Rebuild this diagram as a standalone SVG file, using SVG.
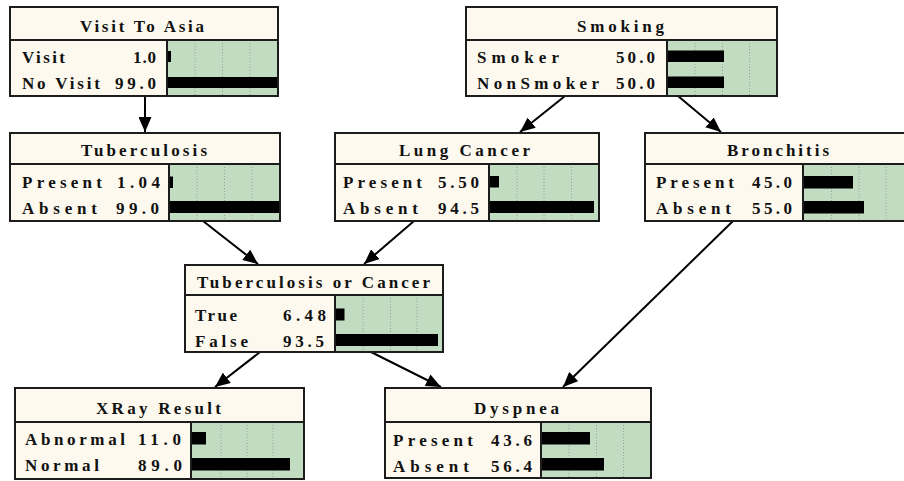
<svg xmlns="http://www.w3.org/2000/svg" width="904" height="481" viewBox="0 0 904 481">
  <defs>
    <style>
      .frame { fill: #fdf9ee; stroke: #1c1c1c; stroke-width: 2; }
      .panel { fill: #c1dcc1; }
      .rule { stroke: #1c1c1c; stroke-width: 2; fill: none; }
      .grid { stroke: #9a9a9a; stroke-width: 1; stroke-dasharray: 1 2; }
      .bar { fill: #000; }
      .edge { stroke: #000; stroke-width: 2; fill: none; marker-end: url(#arrow); }
      text { font-family: "Liberation Serif", "Times New Roman", serif; font-weight: bold; font-size: 17px; fill: #111; }
    </style>
    <marker id="arrow" viewBox="0 0 15 13" refX="15" refY="6.5" markerWidth="15" markerHeight="13" markerUnits="userSpaceOnUse" orient="auto">
      <path d="M0,0 L15,6.5 L0,13 z" fill="#000"/>
    </marker>
  </defs>
  <rect width="904" height="481" fill="#fff"/>

  <!-- connectors -->
  <g id="connectors">
    <line class="edge" x1="145" y1="96" x2="145" y2="132"/>
    <line class="edge" x1="565" y1="96" x2="520" y2="132"/>
    <line class="edge" x1="678" y1="96" x2="721" y2="132"/>
    <line class="edge" x1="203" y1="221" x2="258" y2="264"/>
    <line class="edge" x1="414" y1="221" x2="364" y2="264"/>
    <line class="edge" x1="733" y1="221" x2="563" y2="387"/>
    <line class="edge" x1="260" y1="352" x2="215" y2="387"/>
    <line class="edge" x1="371" y1="352" x2="441" y2="387"/>
  </g>

  <!-- Visit To Asia -->
  <g id="visit-to-asia">
    <rect class="frame" x="10" y="7" width="268" height="89"/>
    <rect class="panel" x="167" y="40" width="111" height="56"/>
    <line class="grid" x1="195" y1="40" x2="195" y2="96"/>
    <line class="grid" x1="222.5" y1="40" x2="222.5" y2="96"/>
    <line class="grid" x1="250" y1="40" x2="250" y2="96"/>
    <rect class="bar" x="168" y="51" width="3" height="11"/>
    <rect class="bar" x="168" y="77" width="110" height="11"/>
    <line class="rule" x1="10" y1="40" x2="278" y2="40"/>
    <line class="rule" x1="167" y1="40" x2="167" y2="96"/>
    <rect class="frame" x="10" y="7" width="268" height="89" style="fill:none"/>
    <text x="80" y="32" textLength="124" lengthAdjust="spacing">Visit To Asia</text>
    <text x="22" y="63" textLength="43" lengthAdjust="spacing">Visit</text>
    <text x="133" y="63" textLength="23" lengthAdjust="spacing">1.0</text>
    <text x="22" y="89" textLength="78" lengthAdjust="spacing">No Visit</text>
    <text x="115" y="89" textLength="41" lengthAdjust="spacing">99.0</text>
  </g>

  <!-- Smoking -->
  <g id="smoking">
    <rect class="frame" x="466" y="7" width="311" height="89"/>
    <rect class="panel" x="667" y="40" width="110" height="56"/>
    <line class="grid" x1="695" y1="40" x2="695" y2="96"/>
    <line class="grid" x1="722.5" y1="40" x2="722.5" y2="96"/>
    <line class="grid" x1="749.5" y1="40" x2="749.5" y2="96"/>
    <rect class="bar" x="668" y="50.5" width="56" height="11.5"/>
    <rect class="bar" x="668" y="76.5" width="56" height="11.5"/>
    <line class="rule" x1="466" y1="40" x2="777" y2="40"/>
    <line class="rule" x1="667" y1="40" x2="667" y2="96"/>
    <rect class="frame" x="466" y="7" width="311" height="89" style="fill:none"/>
    <text x="577" y="32" textLength="87" lengthAdjust="spacing">Smoking</text>
    <text x="477" y="63" textLength="82" lengthAdjust="spacing">Smoker</text>
    <text x="616" y="63" textLength="39" lengthAdjust="spacing">50.0</text>
    <text x="477" y="89" textLength="122" lengthAdjust="spacing">NonSmoker</text>
    <text x="616" y="89" textLength="39" lengthAdjust="spacing">50.0</text>
  </g>

  <!-- Tuberculosis -->
  <g id="tuberculosis">
    <rect class="frame" x="10" y="133" width="270" height="88"/>
    <rect class="panel" x="169" y="164" width="111" height="57"/>
    <line class="grid" x1="197" y1="164" x2="197" y2="221"/>
    <line class="grid" x1="224.5" y1="164" x2="224.5" y2="221"/>
    <line class="grid" x1="252" y1="164" x2="252" y2="221"/>
    <rect class="bar" x="170" y="176.5" width="3" height="11.5"/>
    <rect class="bar" x="170" y="201" width="110" height="12"/>
    <line class="rule" x1="10" y1="164" x2="280" y2="164"/>
    <line class="rule" x1="169" y1="164" x2="169" y2="221"/>
    <rect class="frame" x="10" y="133" width="270" height="88" style="fill:none"/>
    <text x="81" y="156" textLength="126" lengthAdjust="spacing">Tuberculosis</text>
    <text x="22" y="188" textLength="80" lengthAdjust="spacing">Present</text>
    <text x="117" y="188" textLength="43" lengthAdjust="spacing">1.04</text>
    <text x="22" y="214" textLength="75" lengthAdjust="spacing">Absent</text>
    <text x="116" y="214" textLength="43" lengthAdjust="spacing">99.0</text>
  </g>

  <!-- Lung Cancer -->
  <g id="lung-cancer">
    <rect class="frame" x="335" y="133" width="264" height="88"/>
    <rect class="panel" x="489" y="164" width="110" height="57"/>
    <line class="grid" x1="517" y1="164" x2="517" y2="221"/>
    <line class="grid" x1="544" y1="164" x2="544" y2="221"/>
    <line class="grid" x1="571.5" y1="164" x2="571.5" y2="221"/>
    <rect class="bar" x="490" y="176" width="9" height="11.5"/>
    <rect class="bar" x="490" y="201" width="104" height="12"/>
    <line class="rule" x1="335" y1="164" x2="599" y2="164"/>
    <line class="rule" x1="489" y1="164" x2="489" y2="221"/>
    <rect class="frame" x="335" y="133" width="264" height="88" style="fill:none"/>
    <text x="399" y="156" textLength="131" lengthAdjust="spacing">Lung Cancer</text>
    <text x="343" y="188" textLength="79" lengthAdjust="spacing">Present</text>
    <text x="438" y="188" textLength="41" lengthAdjust="spacing">5.50</text>
    <text x="343" y="214" textLength="75" lengthAdjust="spacing">Absent</text>
    <text x="438" y="214" textLength="41" lengthAdjust="spacing">94.5</text>
  </g>

  <!-- Bronchitis -->
  <g id="bronchitis">
    <rect class="frame" x="645" y="133" width="268" height="88"/>
    <rect class="panel" x="803" y="164" width="110" height="57"/>
    <line class="grid" x1="831.5" y1="164" x2="831.5" y2="221"/>
    <line class="grid" x1="859" y1="164" x2="859" y2="221"/>
    <line class="grid" x1="886" y1="164" x2="886" y2="221"/>
    <rect class="bar" x="804" y="176" width="49" height="12.5"/>
    <rect class="bar" x="804" y="201" width="60" height="12.5"/>
    <line class="rule" x1="645" y1="164" x2="913" y2="164"/>
    <line class="rule" x1="803" y1="164" x2="803" y2="221"/>
    <rect class="frame" x="645" y="133" width="268" height="88" style="fill:none"/>
    <text x="727" y="156" textLength="102" lengthAdjust="spacing">Bronchitis</text>
    <text x="656" y="188" textLength="78" lengthAdjust="spacing">Present</text>
    <text x="752" y="188" textLength="40" lengthAdjust="spacing">45.0</text>
    <text x="656" y="214" textLength="75" lengthAdjust="spacing">Absent</text>
    <text x="752" y="214" textLength="40" lengthAdjust="spacing">55.0</text>
  </g>

  <!-- Tuberculosis or Cancer -->
  <g id="tuberculosis-or-cancer">
    <rect class="frame" x="185" y="265" width="258" height="87"/>
    <rect class="panel" x="335" y="295" width="108" height="57"/>
    <line class="grid" x1="363" y1="295" x2="363" y2="352"/>
    <line class="grid" x1="390.5" y1="295" x2="390.5" y2="352"/>
    <line class="grid" x1="417" y1="295" x2="417" y2="352"/>
    <rect class="bar" x="336" y="308.5" width="8.5" height="12"/>
    <rect class="bar" x="336" y="334" width="102" height="12"/>
    <line class="rule" x1="185" y1="295" x2="443" y2="295"/>
    <line class="rule" x1="335" y1="295" x2="335" y2="352"/>
    <rect class="frame" x="185" y="265" width="258" height="87" style="fill:none"/>
    <text x="197" y="288" textLength="233" lengthAdjust="spacing">Tuberculosis or Cancer</text>
    <text x="195" y="320.5" textLength="42" lengthAdjust="spacing">True</text>
    <text x="283" y="320.5" textLength="43" lengthAdjust="spacing">6.48</text>
    <text x="195" y="346.5" textLength="53" lengthAdjust="spacing">False</text>
    <text x="283" y="346.5" textLength="41" lengthAdjust="spacing">93.5</text>
  </g>

  <!-- XRay Result -->
  <g id="xray-result">
    <rect class="frame" x="15" y="388" width="289" height="91"/>
    <rect class="panel" x="191" y="422" width="113" height="57"/>
    <line class="grid" x1="221" y1="422" x2="221" y2="479"/>
    <line class="grid" x1="247" y1="422" x2="247" y2="479"/>
    <line class="grid" x1="273" y1="422" x2="273" y2="479"/>
    <rect class="bar" x="192" y="432" width="14" height="12.5"/>
    <rect class="bar" x="192" y="458" width="98" height="12.5"/>
    <line class="rule" x1="15" y1="422" x2="304" y2="422"/>
    <line class="rule" x1="191" y1="422" x2="191" y2="479"/>
    <rect class="frame" x="15" y="388" width="289" height="91" style="fill:none"/>
    <text x="96" y="413.5" textLength="125" lengthAdjust="spacing">XRay Result</text>
    <text x="25" y="444.5" textLength="100" lengthAdjust="spacing">Abnormal</text>
    <text x="138" y="444.5" textLength="43" lengthAdjust="spacing">11.0</text>
    <text x="25" y="470.5" textLength="74" lengthAdjust="spacing">Normal</text>
    <text x="138" y="470.5" textLength="44" lengthAdjust="spacing">89.0</text>
  </g>

  <!-- Dyspnea -->
  <g id="dyspnea">
    <rect class="frame" x="385" y="388" width="266" height="90"/>
    <rect class="panel" x="541" y="422" width="110" height="56"/>
    <line class="grid" x1="569" y1="422" x2="569" y2="478"/>
    <line class="grid" x1="596.5" y1="422" x2="596.5" y2="478"/>
    <line class="grid" x1="623.5" y1="422" x2="623.5" y2="478"/>
    <rect class="bar" x="542" y="432" width="48" height="12.5"/>
    <rect class="bar" x="542" y="458" width="62" height="12.5"/>
    <line class="rule" x1="385" y1="422" x2="651" y2="422"/>
    <line class="rule" x1="541" y1="422" x2="541" y2="478"/>
    <rect class="frame" x="385" y="388" width="266" height="90" style="fill:none"/>
    <text x="474" y="414" textLength="85" lengthAdjust="spacing">Dyspnea</text>
    <text x="393" y="446" textLength="80" lengthAdjust="spacing">Present</text>
    <text x="491" y="446" textLength="41" lengthAdjust="spacing">43.6</text>
    <text x="393" y="472" textLength="76" lengthAdjust="spacing">Absent</text>
    <text x="491" y="472" textLength="41" lengthAdjust="spacing">56.4</text>
  </g>
</svg>
